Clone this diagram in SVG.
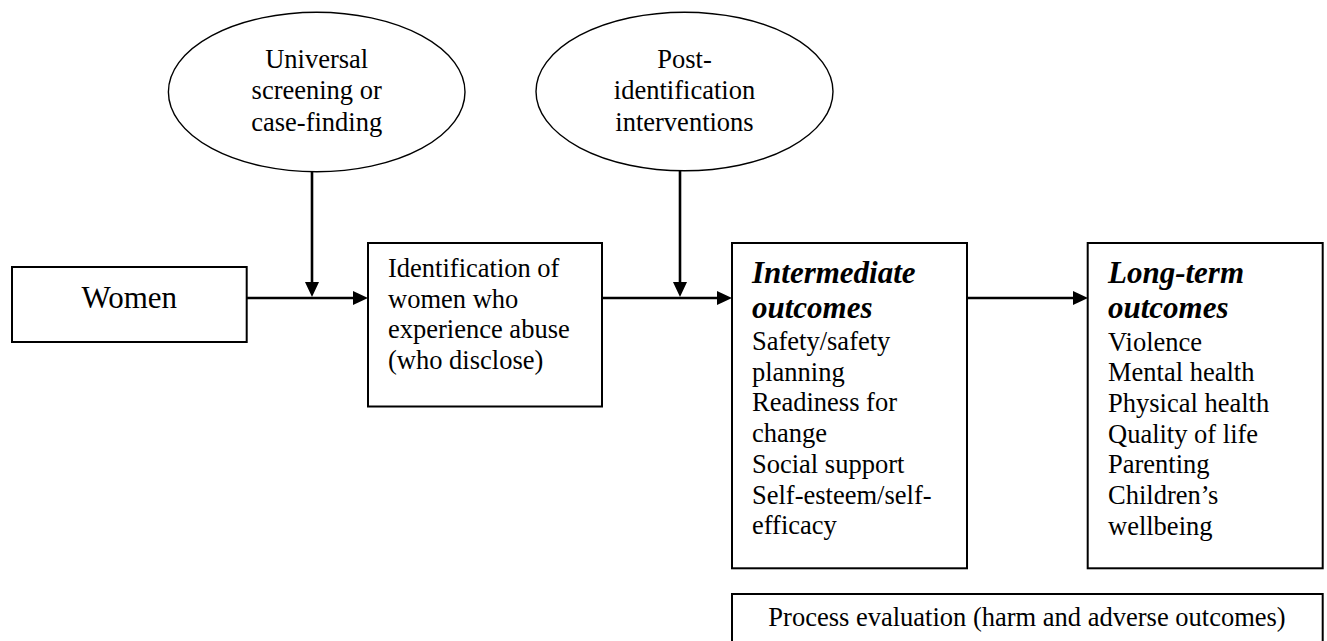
<svg xmlns="http://www.w3.org/2000/svg" width="1327" height="641" viewBox="0 0 1327 641">
<style>
  .box { fill: #ffffff; stroke: #000000; stroke-width: 2; }
  .oval { fill: #ffffff; stroke: #000000; stroke-width: 1.4; }
  .conn { fill: none; stroke: #000000; stroke-width: 2.6; }
  text { font-family: "Liberation Serif", "Times New Roman", serif; fill: #000000; }
  .body { font-size: 26.5px; }
  .big { font-size: 31px; }
  .head { font-size: 31px; font-weight: bold; font-style: italic; }
  .mid { text-anchor: middle; }
</style>
<defs>
  <marker id="arrow" markerUnits="userSpaceOnUse" viewBox="0 0 15 14" refX="0" refY="7" markerWidth="15" markerHeight="14" orient="auto">
    <path d="M0,0 L15,7 L0,14 Z" fill="#000000"/>
  </marker>
</defs>
<rect width="1327" height="641" fill="#ffffff"/>

<g id="connectors">
  <line class="conn" x1="247" y1="298" x2="353" y2="298" marker-end="url(#arrow)"/>
  <line class="conn" x1="312" y1="172" x2="312" y2="282" marker-end="url(#arrow)"/>
  <line class="conn" x1="602" y1="298" x2="717" y2="298" marker-end="url(#arrow)"/>
  <line class="conn" x1="680" y1="171" x2="680" y2="282" marker-end="url(#arrow)"/>
  <line class="conn" x1="967" y1="298" x2="1073" y2="298" marker-end="url(#arrow)"/>
</g>

<g id="screening">
  <ellipse class="oval" cx="316.7" cy="92" rx="148.3" ry="79.7"/>
  <text class="body mid" x="316.7" y="67.5">Universal</text>
  <text class="body mid" x="316.7" y="99">screening or</text>
  <text class="body mid" x="316.7" y="130.5">case-finding</text>
</g>

<g id="post-identification">
  <ellipse class="oval" cx="684.5" cy="91.5" rx="148.5" ry="79.3"/>
  <text class="body mid" x="684.5" y="67.5">Post-</text>
  <text class="body mid" x="684.5" y="99">identification</text>
  <text class="body mid" x="684.5" y="130.5">interventions</text>
</g>

<g id="women">
  <rect class="box" x="12" y="267" width="234.7" height="75"/>
  <text class="big mid" x="129.3" y="308.3">Women</text>
</g>

<g id="identification">
  <rect class="box" x="368" y="243" width="234" height="163.5"/>
  <text class="body" x="388" y="277">Identification of</text>
  <text class="body" x="388" y="307.7">women who</text>
  <text class="body" x="388" y="338.4">experience abuse</text>
  <text class="body" x="388" y="369.1">(who disclose)</text>
</g>

<g id="intermediate">
  <rect class="box" x="732" y="243" width="235" height="325.3"/>
  <text class="head" x="752" y="283">Intermediate</text>
  <text class="head" x="752" y="318">outcomes</text>
  <text class="body" x="752" y="350">Safety/safety</text>
  <text class="body" x="752" y="380.7">planning</text>
  <text class="body" x="752" y="411.4">Readiness for</text>
  <text class="body" x="752" y="442.1">change</text>
  <text class="body" x="752" y="472.8">Social support</text>
  <text class="body" x="752" y="503.5">Self-esteem/self-</text>
  <text class="body" x="752" y="534.2">efficacy</text>
</g>

<g id="long-term">
  <rect class="box" x="1087.7" y="243" width="235" height="325.3"/>
  <text class="head" x="1108" y="283">Long-term</text>
  <text class="head" x="1108" y="318">outcomes</text>
  <text class="body" x="1108" y="350.5">Violence</text>
  <text class="body" x="1108" y="381.2">Mental health</text>
  <text class="body" x="1108" y="411.9">Physical health</text>
  <text class="body" x="1108" y="442.6">Quality of life</text>
  <text class="body" x="1108" y="473.3">Parenting</text>
  <text class="body" x="1108" y="504">Children’s</text>
  <text class="body" x="1108" y="534.7">wellbeing</text>
</g>

<g id="process-evaluation">
  <rect class="box" x="732" y="594" width="590.7" height="60"/>
  <text class="body mid" x="1027" y="626">Process evaluation (harm and adverse outcomes)</text>
</g>
</svg>
